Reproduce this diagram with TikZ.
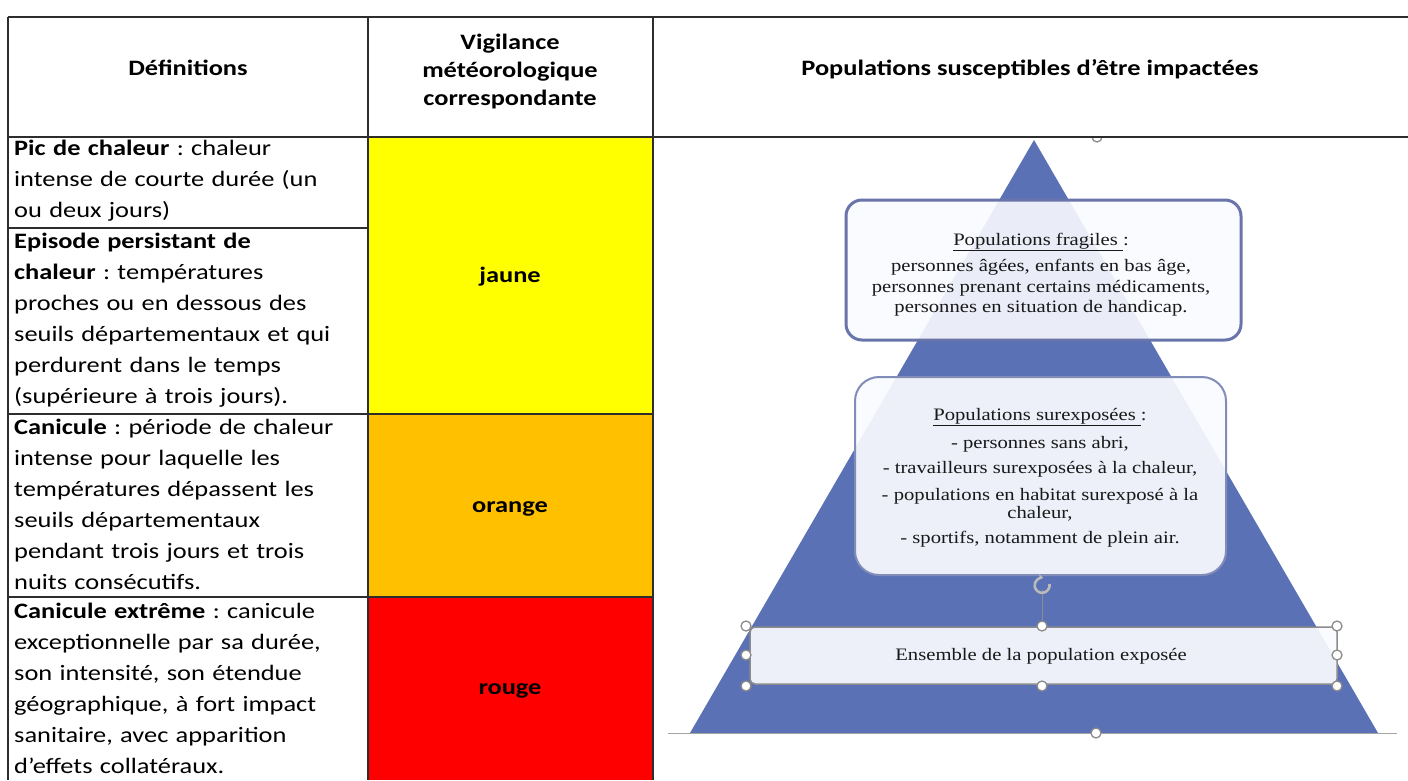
\documentclass[tikz,border=0pt]{standalone}
\usepackage{fontspec}
\setmainfont{Carlito}[FakeStretch=1.2]
\newfontfamily\pyrfont{Liberation Serif}[FakeStretch=1.18]
\usetikzlibrary{arrows.meta}
\definecolor{pyrblue}{RGB}{91,113,181}
\definecolor{cjaune}{RGB}{255,255,0}
\definecolor{corange}{RGB}{255,192,0}
\definecolor{crouge}{RGB}{255,0,0}
\definecolor{hgray}{RGB}{140,140,140}
\definecolor{tline}{RGB}{45,45,45}
\definecolor{ptext}{RGB}{25,25,25}
\definecolor{fragborder}{RGB}{104,116,170}
\definecolor{surborder}{RGB}{130,140,185}
\definecolor{boxfill}{RGB}{250,251,255}
\newcommand\firstln{\rule{0pt}{20pt}}
\frenchspacing
\tikzset{
  grid/.style={draw=tline, line width=1.5},
  cell/.style={anchor=north west, inner sep=0, text width=345, align=left, font=\fontsize{22}{31}\selectfont},
  hdr/.style={inner sep=0, font=\bfseries\fontsize{22}{28}\selectfont, align=center},
  lvl/.style={inner sep=0, anchor=base, font=\bfseries\fontsize{22}{26}\selectfont},
  ptxt/.style={inner sep=0, anchor=base, font=\pyrfont\fontsize{17.5}{20}\selectfont, text=ptext},
  handle/.style={circle, draw=hgray, fill=white, line width=1.3, minimum size=10, inner sep=0},
  fragbox/.style={draw=fragborder, line width=3, rounded corners=16, fill=boxfill, fill opacity=0.9, inner sep=0},
  surbox/.style={draw=surborder, line width=2, rounded corners=24, fill=boxfill, fill opacity=0.92, inner sep=0},
  ensbox/.style={draw=hgray, line width=1.5, rounded corners=5, fill=boxfill, fill opacity=0.92, inner sep=0},
}
\begin{document}
\begin{tikzpicture}[x=1pt,y=-1pt]
\useasboundingbox (0,0) rectangle (1408,780);
\fill[white] (0,0) rectangle (1408,780);

% colour cells
\fill[cjaune] (368,137) rectangle (653,414);
\fill[corange] (368,414) rectangle (653,597);
\fill[crouge] (368,597) rectangle (653,780);

% pyramid
\coordinate (apex) at (1034,140);
\coordinate (bl) at (690,733);
\coordinate (br) at (1378,733);
\fill[pyrblue] (apex) -- (br) -- (bl) -- cycle;
\coordinate (gl) at (668,733);
\coordinate (gr) at (1397,733);
\draw[hgray!80, line width=1] (gl) -- (gr);

% boxes
\node[fragbox, minimum width=395, minimum height=140] (frag) at (1043.5,270) {};
\node[surbox, minimum width=371, minimum height=198] (sur) at (1040.5,476) {};
\node[ensbox, minimum width=587, minimum height=57] (ens) at (1043.5,655.5) {};

% pyramid texts
\node[ptxt] (f1) at (1041,245) {\underline{Populations fragiles }:};
\node[ptxt] (f2) at (1041,271) {personnes âgées, enfants en bas âge,};
\node[ptxt] (f3) at (1041,292) {personnes prenant certains médicaments,};
\node[ptxt] (f4) at (1041,312) {personnes en situation de handicap.};

\node[ptxt] (s1) at (1040,420) {\underline{Populations surexposées }:};
\node[ptxt] (s2) at (1040,448) {- personnes sans abri,};
\node[ptxt] (s3) at (1040,473) {- travailleurs surexposées à la chaleur,};
\node[ptxt] (s4) at (1040,500) {- populations en habitat surexposé à la};
\node[ptxt] (s5) at (1040,518) {chaleur,};
\node[ptxt] (s6) at (1040,543) {- sportifs, notamment de plein air.};

\node[ptxt] (e1) at (1041,660) {Ensemble de la population exposée};

% selection handles
\coordinate (rot) at (1042,585);
\node[handle] (hTM) at (1042,626) {};
\draw[hgray, line width=1] (rot) -- (hTM);
\fill[pyrblue] (rot) circle (5);
\draw[hgray!60, line width=2.6, -{Stealth[length=5pt,width=6pt]}] (1049.5,584) arc[start angle=-10, end angle=280, radius=7.5];
\node[handle] (hTL) at (746,626) {};
\node[handle] (hTR) at (1337,626) {};
\node[handle] (hML) at (746,655) {};
\node[handle] (hMR) at (1337,655) {};
\node[handle] (hBL) at (746,686) {};
\node[handle] (hBM) at (1042,686) {};
\node[handle] (hBR) at (1337,686) {};
\node[handle] (hBase) at (1096,733) {};
\draw[hgray, line width=1.3] (1102,137) arc[start angle=0, end angle=180, radius=5];

% table grid
\draw[grid] (8,17) -- (1408,17);
\draw[grid] (8,137) -- (1408,137);
\draw[grid] (8,228) -- (368,228);
\draw[grid] (8,414) -- (653,414);
\draw[grid] (8,597) -- (653,597);
\draw[grid] (8,17) -- (8,780);
\draw[grid] (368,17) -- (368,780);
\draw[grid] (653,17) -- (653,780);

% headers
\node[hdr, anchor=base] (hdef) at (188,75) {Définitions};
\node[hdr, anchor=north] (hvig) at (510,29) {\firstln Vigilance\\météorologique\\correspondante};
\node[hdr, anchor=base] (hpop) at (1030,75) {Populations susceptibles d’être impactées};

% level labels
\node[lvl] (ljaune) at (510,282) {jaune};
\node[lvl] (lorange) at (510,512) {orange};
\node[lvl] (lrouge) at (510,694) {rouge};

% definitions
\node[cell] (d1) at (14,135) {\firstln\textbf{Pic de chaleur} : chaleur\\intense de courte durée (un\\ou deux jours)};
\node[cell] (d2) at (14,228) {\firstln\textbf{Episode persistant de}\\\textbf{chaleur} : températures\\proches ou en dessous des\\seuils départementaux et qui\\perdurent dans le temps\\(supérieure à trois jours).};
\node[cell] (d3) at (14,414) {\firstln\textbf{Canicule} : période de chaleur\\intense pour laquelle les\\températures dépassent les\\seuils départementaux\\pendant trois jours et trois\\nuits consécutifs.};
\node[cell] (d4) at (14,598) {\firstln\textbf{Canicule extrême} : canicule\\exceptionnelle par sa durée,\\son intensité, son étendue\\géographique, à fort impact\\sanitaire, avec apparition\\d’effets collatéraux.};
\end{tikzpicture}
\end{document}
